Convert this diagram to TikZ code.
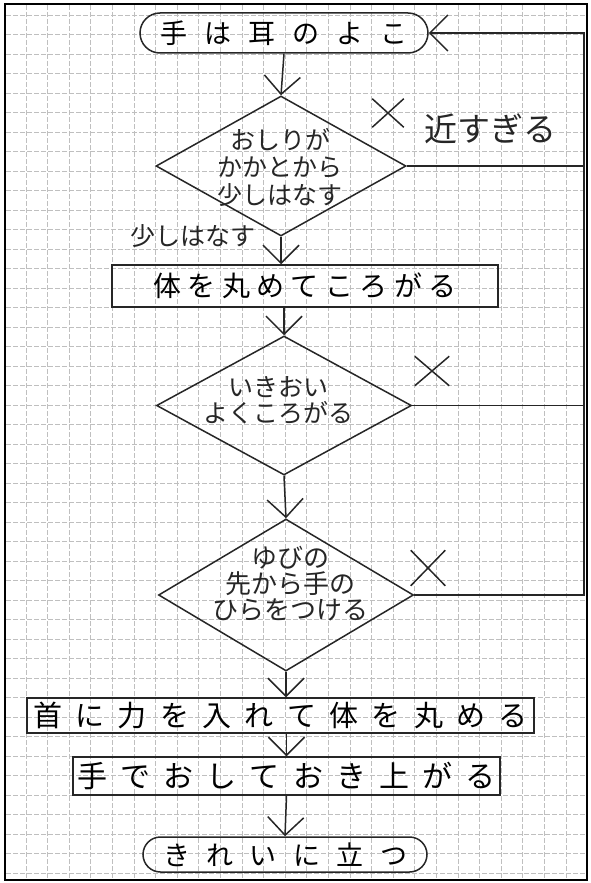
\documentclass[tikz,border=0pt]{standalone}
\usepackage{fontspec}
\setmainfont{Noto Sans CJK JP}
\usetikzlibrary{arrows.meta,shapes.geometric,shapes.misc}
\begin{document}
\begin{tikzpicture}[x=1pt,y=-1pt,
  ln/.style={line width=1.5pt, draw=black!85},
  arr/.style={ln, -{Straight Barb[length=18pt,width=36pt]}},
  gridline/.style={line width=0.7pt, draw=black!25, dash pattern=on 5pt off 2pt},
  term/.style={ln, draw, rounded rectangle, inner sep=0pt},
  boxn/.style={ln, draw, rectangle, inner sep=0pt},
  dia/.style={ln, draw, diamond, inner sep=0pt},
  xmark/.style={ln, draw, cross out, inner sep=0pt, minimum width=30pt, minimum height=27pt},
  txt/.style={inner sep=0pt, align=center, text=black!85}
]
\useasboundingbox (0,0) rectangle (590,883);
\fill[white] (0,0) rectangle (590,883);
% grid paper
\foreach \i in {0,...,25} \draw[gridline] ({26+21.6*\i},5) -- ({26+21.6*\i},879);
\foreach \j in {0,...,44} \draw[gridline] (6,{15+19.5*\j}) -- (586,{15+19.5*\j});
\draw[line width=1.5pt] (5,4) rectangle (587,880);

% nodes
\node[term, minimum width=288pt, minimum height=40pt, font=\fontsize{27}{30}\selectfont] (t1) at (284,33)
  {\makebox[247pt][s]{手\hfill は\hfill 耳\hfill の\hfill よ\hfill こ}\hspace{12pt}};
\node[dia, minimum width=250pt, minimum height=140pt] (d1) at (281,166) {};
\node[txt, font=\fontsize{25}{27.5}\selectfont] (d1t) at (280,167) {おしりが\\かかとから\\少しはなす};
\node[boxn, minimum width=386pt, minimum height=42pt, font=\fontsize{28}{30}\selectfont] (r1) at (305,286)
  {\makebox[303pt][s]{体\hfill を\hfill 丸\hfill め\hfill て\hfill こ\hfill ろ\hfill が\hfill る}\hspace{53pt}};
\node[dia, minimum width=255pt, minimum height=139pt] (d2) at (284,405.5) {};
\node[txt, font=\fontsize{25}{26}\selectfont] (d2t) at (278,400) {いきおい\\よくころがる};
\node[dia, minimum width=255pt, minimum height=152pt] (d3) at (286,595) {};
\node[txt, font=\fontsize{26}{26}\selectfont] (d3t) at (290,584) {ゆびの\\先から手の\\ひらをつける};
\node[boxn, minimum width=507pt, minimum height=35pt, font=\fontsize{29}{30}\selectfont] (r2) at (280.5,715.5)
  {\makebox[495pt][s]{首\hfill に\hfill 力\hfill を\hfill 入\hfill れ\hfill て\hfill 体\hfill を\hfill 丸\hfill め\hfill る}};
\node[boxn, minimum width=427pt, minimum height=38pt, font=\fontsize{30}{32}\selectfont] (r3) at (286.5,776)
  {\makebox[418pt][s]{手\hfill で\hfill お\hfill し\hfill て\hfill お\hfill き\hfill 上\hfill が\hfill る}};
\node[term, minimum width=284pt, minimum height=35pt, font=\fontsize{27}{30}\selectfont] (t2) at (285,854.5)
  {\makebox[244pt][s]{き\hfill れ\hfill い\hfill に\hfill 立\hfill つ}};

% labels
\node[xmark] (x1) at (388,113) {};
\node[txt, font=\fontsize{33}{36}\selectfont] (near) at (490,129) {近すぎる};
\node[txt, font=\fontsize{25}{27}\selectfont] (yes1) at (193,236) {少しはなす};
\node[xmark, minimum width=33pt, minimum height=28pt] (x2) at (432,371) {};
\node[xmark, minimum width=33pt, minimum height=34pt] (x3) at (428,568) {};

% connectors
\coordinate (rx) at (584,0);
\draw[arr] (t1.south) -- (d1.north);
\draw[arr] (d1.south) -- (d1.south |- r1.north);
\draw[arr] (r1.south -| d2.north) -- (d2.north);
\draw[arr] (d2.south) -- (d3.north);
\draw[arr] (d3.south) -- (d3.south |- r2.north);
\draw[arr] (r3.north |- r2.south) -- (r3.north);
\draw[arr] (r3.south) -- (t2.north);
\draw[ln] (d1.east) -- (d1.east -| rx);
\draw[ln] (d2.east) -- (d2.east -| rx);
\draw[arr] (d3.east) -- (d3.east -| rx) |- (t1.east);
\end{tikzpicture}
\end{document}
